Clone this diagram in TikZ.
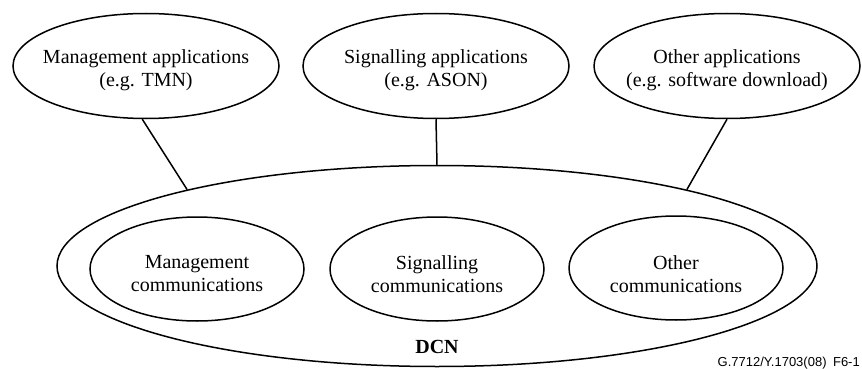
\documentclass[tikz,border=0pt]{standalone}
\usepackage{fontspec}
\setmainfont{Liberation Serif}
\newfontfamily\labelfont{Liberation Sans}
\usetikzlibrary{shapes.geometric}
\begin{document}
\begin{tikzpicture}[x=1pt,y=-1pt,
  ell/.style={draw,ellipse,line width=1.5pt,inner sep=0pt},
  appell/.style={ell,minimum width=266pt,minimum height=105pt},
  comell/.style={ell,minimum width=214pt,minimum height=104pt},
  txt/.style={align=center,font=\fontsize{20}{23}\selectfont,inner sep=0pt},
  conn/.style={line width=1.5pt}]
\useasboundingbox (0,0) rectangle (862,369);
% application ellipses
\node[appell] (a1) at (146,66) {};
\node[appell] (a2) at (436,66) {};
\node[appell] (a3) at (727,66) {};
\node[txt] (ta1) at (146,70) {Management applications\\(e.g. TMN)};
\node[txt] (ta2) at (436,70) {Signalling applications\\(e.g. ASON)};
\node[txt] (ta3) at (727,70) {Other applications\\(e.g. software download)};
% DCN
\node[ell,minimum width=760pt,minimum height=201pt] (dcn) at (437,266) {};
\node[comell] (c1) at (197,269) {};
\node[comell] (c2) at (437,269) {};
\node[comell] (c3) at (676,268) {};
\node[txt] (tc1) at (197,274) {Management\\communications};
\node[txt] (tc2) at (437,274) {Signalling\\communications};
\node[txt] (tc3) at (676,274) {Other\\communications};
\node[txt,font=\fontsize{20}{23}\selectfont\bfseries] (dcnl) at (437,347) {DCN};
\node[anchor=base east,inner sep=0pt,font=\labelfont\fontsize{13}{15}\selectfont] (fig) at (860,366) {G.7712/Y.1703(08)\enspace F6-1};
% connectors
\draw[conn] (a1.266) -- (dcn.163);
\draw[conn] (a2.south) -- (dcn.north);
\draw[conn] (a3.south) -- (dcn.17.5);
\end{tikzpicture}
\end{document}
